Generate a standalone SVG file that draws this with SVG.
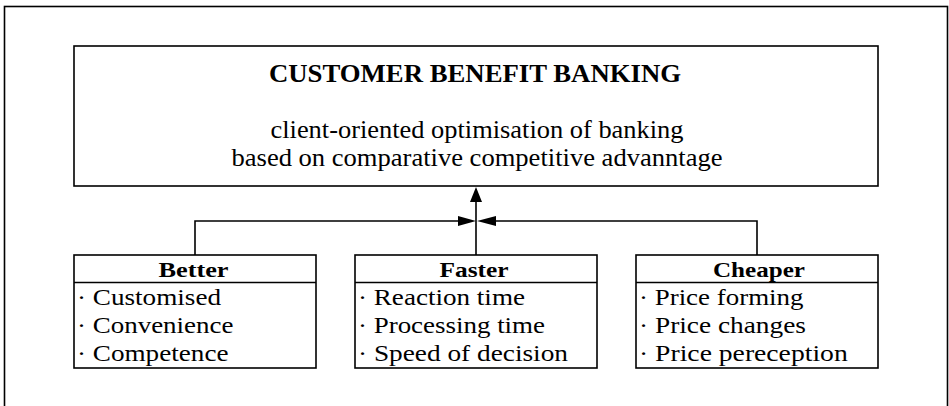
<svg xmlns="http://www.w3.org/2000/svg" width="949" height="406" viewBox="0 0 949 406">
  <defs>
    <style>
      .box { fill: #ffffff; stroke: #000000; stroke-width: 1.6; }
      .line { fill: none; stroke: #000000; stroke-width: 1.6; }
      .head { fill: #000000; stroke: none; }
      text { font-family: "Liberation Serif", "Times New Roman", serif; fill: #000000; }
      .title { font-size: 25px; font-weight: bold; text-anchor: middle; }
      .sub { font-size: 25px; text-anchor: middle; }
      .hdr { font-size: 22px; font-weight: bold; text-anchor: middle; }
      .item { font-size: 23.5px; }
    </style>
  </defs>
  <rect x="0" y="0" width="949" height="406" fill="#ffffff"/>
  <rect id="frame" x="4.5" y="6.5" width="943" height="430" fill="none" stroke="#000000" stroke-width="1.6"/>

  <g id="main">
    <rect class="box" x="74" y="46" width="804" height="140"/>
    <text class="title" x="475" y="82" textLength="412" lengthAdjust="spacingAndGlyphs">CUSTOMER BENEFIT BANKING</text>
    <text class="sub" x="477" y="138" textLength="413" lengthAdjust="spacingAndGlyphs">client-oriented optimisation of banking</text>
    <text class="sub" x="477" y="166" textLength="491" lengthAdjust="spacingAndGlyphs">based on comparative competitive advanntage</text>
  </g>

  <g id="connectors">
    <polyline class="line" points="195,255 195,221 462,221"/>
    <polyline class="line" points="757,255 757,221 492,221"/>
    <line class="line" x1="476" y1="255" x2="476" y2="200"/>
    <polygon class="head" points="476,187 470,202 482,202"/>
    <polygon class="head" points="476,221 458,216 458,226"/>
    <polygon class="head" points="477,221 496,216 496,226"/>
  </g>

  <g id="better">
    <rect class="box" x="74" y="255" width="242" height="113"/>
    <line class="line" x1="74" y1="282.5" x2="316" y2="282.5"/>
    <text class="hdr" x="193.5" y="276.5" textLength="70" lengthAdjust="spacingAndGlyphs">Better</text>
    <text class="item" x="77" y="305" textLength="144" lengthAdjust="spacingAndGlyphs">· Customised</text>
    <text class="item" x="77" y="333" textLength="156.5" lengthAdjust="spacingAndGlyphs">· Convenience</text>
    <text class="item" x="77" y="361" textLength="151.5" lengthAdjust="spacingAndGlyphs">· Competence</text>
  </g>

  <g id="faster">
    <rect class="box" x="355" y="255" width="242" height="113"/>
    <line class="line" x1="355" y1="282.5" x2="597" y2="282.5"/>
    <text class="hdr" x="474" y="276.5" textLength="69" lengthAdjust="spacingAndGlyphs">Faster</text>
    <text class="item" x="358" y="305" textLength="167" lengthAdjust="spacingAndGlyphs">· Reaction time</text>
    <text class="item" x="358" y="333" textLength="187" lengthAdjust="spacingAndGlyphs">· Processing time</text>
    <text class="item" x="358" y="361" textLength="210" lengthAdjust="spacingAndGlyphs">· Speed of decision</text>
  </g>

  <g id="cheaper">
    <rect class="box" x="636" y="255" width="242" height="113"/>
    <line class="line" x1="636" y1="282.5" x2="878" y2="282.5"/>
    <text class="hdr" x="759" y="276.5" textLength="92" lengthAdjust="spacingAndGlyphs">Cheaper</text>
    <text class="item" x="639" y="305" textLength="164.5" lengthAdjust="spacingAndGlyphs">· Price forming</text>
    <text class="item" x="639" y="333" textLength="167" lengthAdjust="spacingAndGlyphs">· Price changes</text>
    <text class="item" x="639" y="361" textLength="208.7" lengthAdjust="spacingAndGlyphs">· Price pereception</text>
  </g>
</svg>
